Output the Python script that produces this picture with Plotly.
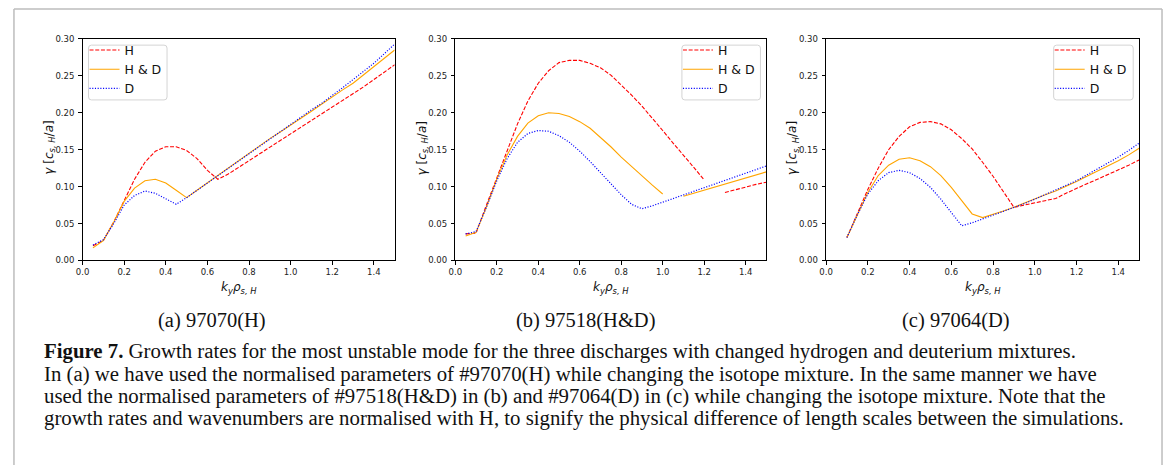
import plotly.graph_objects as go

# ---------------- data ----------------
k_a = [0.05, 0.10, 0.15, 0.20, 0.25, 0.30, 0.35, 0.40, 0.45, 0.50, 0.55, 0.60, 0.65, 0.70, 0.75,
       0.80, 0.85, 0.90, 0.95, 1.00, 1.05, 1.10, 1.15, 1.20, 1.25, 1.30, 1.35, 1.40, 1.45, 1.50]
a_H = [0.020, 0.027, 0.052, 0.082, 0.110, 0.133, 0.148, 0.154, 0.154, 0.149, 0.138, 0.122, 0.110, 0.117, 0.126,
       0.135, 0.144, 0.153, 0.163, 0.172, 0.181, 0.190, 0.199, 0.208, 0.217, 0.226, 0.235, 0.245, 0.255, 0.265]
a_HD = [0.017, 0.027, 0.052, 0.080, 0.098, 0.108, 0.110, 0.105, 0.095, 0.085, 0.095, 0.105, 0.116, 0.126, 0.136,
        0.146, 0.155, 0.165, 0.174, 0.183, 0.193, 0.202, 0.212, 0.222, 0.231, 0.240, 0.251, 0.262, 0.273, 0.285]
a_D = [0.021, 0.028, 0.050, 0.075, 0.088, 0.094, 0.091, 0.083, 0.076, 0.085, 0.095, 0.105, 0.115, 0.125, 0.135,
       0.145, 0.155, 0.165, 0.174, 0.184, 0.194, 0.204, 0.213, 0.223, 0.234, 0.245, 0.256, 0.267, 0.280, 0.293]

k_b = [0.05, 0.10, 0.15, 0.20, 0.25, 0.30, 0.35, 0.40, 0.45, 0.50, 0.55, 0.60, 0.65, 0.70, 0.75,
       0.80, 0.85, 0.90, 0.95, 1.00, 1.05, 1.10, 1.15, 1.20, 1.25, 1.30, 1.35, 1.40, 1.45, 1.50]
b_H = [0.036, 0.037, 0.075, 0.112, 0.150, 0.185, 0.216, 0.240, 0.257, 0.268, 0.271, 0.271, 0.267, 0.261, 0.251,
       0.238, 0.224, 0.209, 0.193, 0.176, 0.159, 0.143, 0.126, 0.109, None, 0.092, 0.096, 0.099, 0.103, 0.106]
b_HD = [0.033, 0.038, 0.072, 0.110, 0.143, 0.168, 0.186, 0.196, 0.200, 0.199, 0.195, 0.188, 0.179, 0.167, 0.154,
        0.140, 0.127, 0.114, 0.102, 0.090, None, 0.087, 0.091, 0.095, 0.099, 0.103, 0.107, 0.111, 0.116, 0.120]
b_D = [0.036, 0.039, 0.072, 0.108, 0.138, 0.160, 0.172, 0.176, 0.175, 0.169, 0.160, 0.148, 0.134, 0.119, 0.104,
       0.089, 0.076, 0.070, 0.074, 0.079, 0.084, 0.089, 0.094, 0.098, 0.103, 0.108, 0.113, 0.118, 0.123, 0.128]

k_c = [0.10, 0.15, 0.20, 0.25, 0.30, 0.35, 0.40, 0.45, 0.50, 0.55, 0.60, 0.65, 0.70, 0.75,
       0.80, 0.85, 0.90, 0.95, 1.00, 1.05, 1.10, 1.15, 1.20, 1.25, 1.30, 1.35, 1.40, 1.45, 1.50]
c_H = [0.031, 0.063, 0.096, 0.125, 0.150, 0.168, 0.181, 0.187, 0.188, 0.185, 0.177, 0.165, 0.151, 0.133,
       0.114, 0.093, 0.072, 0.075, 0.078, 0.080, 0.084, 0.091, 0.098, 0.104, 0.110, 0.116, 0.122, 0.129, 0.136]
c_HD = [0.031, 0.062, 0.092, 0.115, 0.129, 0.137, 0.139, 0.135, 0.127, 0.115, 0.099, 0.081, 0.063, 0.058,
        0.062, 0.067, 0.072, 0.078, 0.084, 0.089, 0.094, 0.100, 0.107, 0.114, 0.121, 0.127, 0.135, 0.143, 0.152]
c_D = [0.031, 0.062, 0.090, 0.108, 0.119, 0.122, 0.119, 0.111, 0.099, 0.083, 0.065, 0.047, 0.051, 0.056,
       0.061, 0.066, 0.071, 0.077, 0.083, 0.089, 0.095, 0.101, 0.108, 0.116, 0.124, 0.131, 0.140, 0.149, 0.159]

series_names = ["H", "H &amp; D", "D"]
x_ticks = [0.0, 0.2, 0.4, 0.6, 0.8, 1.0, 1.2, 1.4]
y_ticks = [0.00, 0.05, 0.10, 0.15, 0.20, 0.25, 0.30]
sub_captions = ["(a) 97070(H)", "(b) 97518(H&amp;D)", "(c) 97064(D)"]
caption_lines = [
    "<b>Figure 7.</b> Growth rates for the most unstable mode for the three discharges with changed hydrogen and deuterium mixtures.",
    "In (a) we have used the normalised parameters of #97070(H) while changing the isotope mixture. In the same manner we have",
    "used the normalised parameters of #97518(H&amp;D) in (b) and #97064(D) in (c) while changing the isotope mixture. Note that the",
    "growth rates and wavenumbers are normalised with H, to signify the physical difference of length scales between the simulations.",
]

# ---------------- layout helpers ----------------
W, H = 1165, 470
def px(x): return x / W
def py(y): return 1 - y / H

# (x, plot left/right, legend name, legend box left/right)
panels = [
    (k_a, [a_H, a_HD, a_D], (76, 390), "legend", (82, 161)),
    (k_b, [b_H, b_HD, b_D], (451, 764), "legend2", (679, 758)),
    (k_c, [c_H, c_HD, c_D], (824, 1139), "legend3", (1053, 1133)),
]
styles = [
    dict(color="#ff0000", width=1.1, dash="4px,1.7px"),
    dict(color="#ffa500", width=1.1, dash="solid"),
    dict(color="#0000ff", width=1.2, dash="1.1px,1.6px"),
]
plot_top, plot_bot = 34.7, 261
leg_top, leg_bot = 41, 97

fig = go.Figure()
layout = dict(width=W, height=H, margin=dict(l=0, r=0, t=0, b=0),
              paper_bgcolor="white", plot_bgcolor="white", font=dict(family="DejaVu Sans", color="#111"))
annotations = []
shapes = []
tick_font = dict(family="DejaVu Sans", size=8.5, color="#222")

def rounded_box(x0, y0, x1, y1, r=3):
    # pixel coords -> paper coords path with rounded corners
    X = lambda v: f"{px(v):.5f}"
    Y = lambda v: f"{py(v):.5f}"
    return (f"M {X(x0 + r)},{Y(y0)} L {X(x1 - r)},{Y(y0)} Q {X(x1)},{Y(y0)} {X(x1)},{Y(y0 + r)} "
            f"L {X(x1)},{Y(y1 - r)} Q {X(x1)},{Y(y1)} {X(x1 - r)},{Y(y1)} "
            f"L {X(x0 + r)},{Y(y1)} Q {X(x0)},{Y(y1)} {X(x0)},{Y(y1 - r)} "
            f"L {X(x0)},{Y(y0 + r)} Q {X(x0)},{Y(y0)} {X(x0 + r)},{Y(y0)} Z")

for i, (k, ys, (xl, xr), leg, (bx0, bx1)) in enumerate(panels):
    n = "" if i == 0 else str(i + 1)
    for name, yv, st in zip(series_names, ys, styles):
        fig.add_trace(go.Scatter(x=k, y=yv, mode="lines", name=name, line=st,
                                 xaxis="x" + n, yaxis="y" + n, legend=leg, connectgaps=False))
    layout["xaxis" + n] = dict(domain=[px(xl), px(xr)], range=[0, 1.5], anchor="y" + n,
                               tickvals=x_ticks, tickformat=".1f", ticks="outside", ticklen=3.5, tickwidth=0.8,
                               tickcolor="black", showline=True, linecolor="black", linewidth=0.9, mirror=True,
                               showgrid=False, zeroline=False, tickfont=tick_font)
    layout["yaxis" + n] = dict(domain=[py(plot_bot), py(plot_top)], range=[0, 0.30], anchor="x" + n,
                               tickvals=y_ticks, tickformat=".2f", ticks="outside", ticklen=3.5, tickwidth=0.8,
                               tickcolor="black", showline=True, linecolor="black", linewidth=0.9, mirror=True,
                               showgrid=False, zeroline=False, tickfont=tick_font, ticklabelstandoff=2)
    # legend frame drawn as a shape, legend itself transparent on top
    shapes.append(dict(type="path", xref="paper", yref="paper", path=rounded_box(bx0, leg_top, bx1, leg_bot),
                       line=dict(color="#d4d4d4", width=1), fillcolor="rgba(255,255,255,0.85)", layer="above"))
    layout[leg] = dict(x=px(bx0 - 4), y=py(leg_top - 10), xanchor="left", yanchor="top", xref="paper", yref="paper",
                       bgcolor="rgba(0,0,0,0)", borderwidth=0,
                       font=dict(family="DejaVu Sans", size=12.5, color="#111"),
                       tracegroupgap=0, itemwidth=30)
    # axis labels
    annotations.append(dict(x=px((xl + xr) / 2), y=py(289), xref="paper", yref="paper",
                            text="<i>k</i><sub><i>y</i></sub><i>ρ</i><sub><i>s, H</i></sub>",
                            showarrow=False, xanchor="center", yanchor="middle",
                            font=dict(family="DejaVu Sans", size=12, color="#111")))
    annotations.append(dict(x=px(xl - 33), y=py(146), xref="paper", yref="paper",
                            text="<i>γ</i> [<i>c</i><sub><i>s, H</i></sub>/<i>a</i>]", textangle=-90,
                            showarrow=False, xanchor="center", yanchor="middle",
                            font=dict(family="DejaVu Sans", size=12, color="#111")))

# sub captions
for cx, txt in zip([206, 582, 955], sub_captions):
    annotations.append(dict(x=px(cx), y=py(322), xref="paper", yref="paper", text=txt, showarrow=False,
                            xanchor="center", yanchor="middle",
                            font=dict(family="Liberation Serif", size=20.5, color="#111")))

# figure caption
for j, line in enumerate(caption_lines):
    annotations.append(dict(x=px(35), y=py(354 + 22.8 * j), xref="paper", yref="paper", text=line,
                            showarrow=False, xanchor="left", yanchor="middle",
                            font=dict(family="Liberation Serif", size=20.8, color="#111")))

# outer frame (open at bottom)
frame = dict(type="line", xref="paper", yref="paper", line=dict(color="#bdbdbd", width=1.5))
shapes.append(dict(frame, x0=px(7), x1=px(7), y0=py(4), y1=py(470)))
shapes.append(dict(frame, x0=px(7), x1=px(1162), y0=py(4), y1=py(4)))
shapes.append(dict(frame, x0=px(1162), x1=px(1162), y0=py(4), y1=py(470)))

layout["annotations"] = annotations
layout["shapes"] = shapes
layout["showlegend"] = True
fig.update_layout(**layout)
fig.write_html("out.html")
